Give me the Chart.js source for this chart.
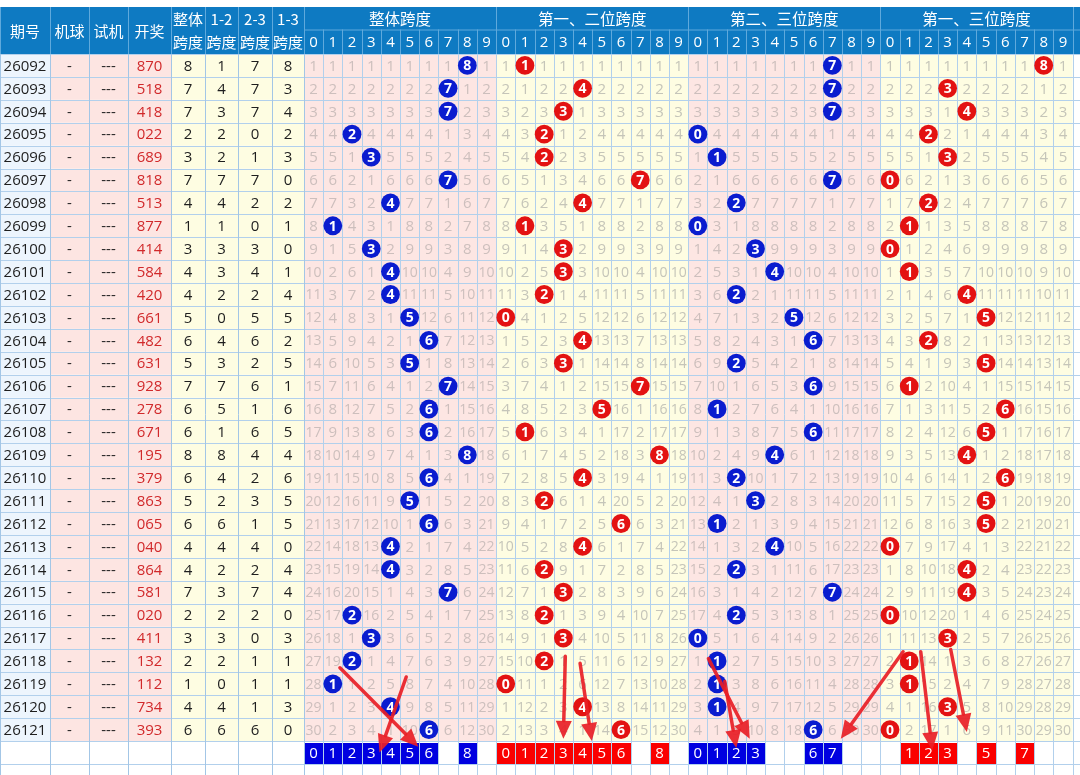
<!DOCTYPE html>
<html lang="zh">
<head>
  <meta charset="UTF-8">
  <title>跨度走势图</title>
  <script src="https://cdn.jsdelivr.net/npm/chart.js"></script>
  <style>
    body { margin: 0; background: #fff; }
    .wrap { width: 1080px; height: 775px; position: relative; }
  </style>
</head>
<body>
  <div class="wrap"><canvas id="span-chart"></canvas></div>

  <script>
    // 期号 / 开奖号
    const issues = ['26092','26093','26094','26095','26096','26097','26098','26099','26100','26101',
                    '26102','26103','26104','26105','26106','26107','26108','26109','26110','26111',
                    '26112','26113','26114','26115','26116','26117','26118','26119','26120','26121'];
    const draws = ['870','518','418','022','689','818','513','877','414','584',
                   '420','661','482','631','928','278','671','195','379','863',
                   '065','040','864','581','020','411','132','112','734','393'];
    const machineBall = '-';
    const testDraw = '---';

    // 跨度
    const spanAll = [8,7,7,2,3,7,4,1,3,4,4,5,6,5,7,6,6,8,6,5,6,4,4,7,2,3,2,1,4,6];
    const span12  = [1,4,3,2,2,7,4,1,3,3,2,0,4,3,7,5,1,8,4,2,6,4,2,3,2,3,2,0,4,6];
    const span23  = [7,7,7,0,1,7,2,0,3,4,2,5,6,2,6,1,6,4,2,3,1,4,2,7,2,0,1,1,1,6];
    const span13  = [8,3,4,2,3,0,2,1,0,1,4,5,2,5,1,6,5,4,6,5,5,0,4,4,0,3,1,1,3,0];

    // 底部选号
    const pickAll = [0,1,2,3,4,5,6,8];
    const pick12  = [0,1,2,3,4,5,6,8];
    const pick23  = [0,1,2,3,6,7];
    const pick13  = [1,2,3,5,7];

    const digits = ['0','1','2','3','4','5','6','7','8','9'];
    const groupTitles = ['整体跨度','第一、二位跨度','第二、三位跨度','第一、三位跨度'];
    const leftTitles = ['期号','机球','试机','开奖',['整体','跨度'],['1-2','跨度'],['2-3','跨度'],['1-3','跨度']];

    // 手画箭头: [起点列, 起点行, 终点列, 终点行]
    const arrows = [
      [1.37, 26.3, 5.45, 29.75],
      [4.82, 26.7, 3.43, 30.0],
      [13.1, 25.8, 13.0, 29.4],
      [13.87, 26.1, 14.48, 29.5],
      [20.55, 25.9, 22.7, 29.4],
      [21.4, 26.9, 22.0, 29.8],
      [30.68, 25.6, 27.44, 29.4],
      [31.6, 25.6, 32.2, 29.9],
      [33.16, 25.5, 34.0, 29.1]
    ];

    const groups = [spanAll, span12, span23, span13];
    const picks = [pickAll, pick12, pick23, pick13];
    const ROWS = issues.length;

    // 布局
    const leftEdges = [0, 50, 89, 128, 171, 205, 238, 272, 304];
    const leftBg = ['#edf5fd','#fde5e2','#fde5e2','#fde5e2','#fefde2','#fefde2','#fefde2','#fefde2'];
    const headTop = 7, headMid = 29.5;
    const NUM_FONT = "'Open Sans', 'Noto Sans', sans-serif";
    const CJK_FONT = "'Noto Sans CJK SC', sans-serif";

    const datasets = groups.map((g, gi) => ({
      data: g.map((v, r) => ({ x: gi * 10 + v, y: r })),
      pointRadius: 9.4,
      pointHoverRadius: 9.4,
      borderWidth: 0,
      backgroundColor: gi % 2 === 0 ? '#0a1ccf' : '#e31212'
    }));

    function drawArrow(ctx, x1, y1, x2, y2) {
      const a = Math.atan2(y2 - y1, x2 - x1);
      const head = 18, hw = 8;
      const bx = x2 - head * Math.cos(a), by = y2 - head * Math.sin(a);
      ctx.beginPath(); ctx.moveTo(x1, y1); ctx.lineTo(bx, by); ctx.stroke();
      ctx.beginPath();
      ctx.moveTo(x2, y2);
      ctx.lineTo(bx + hw * Math.sin(a), by - hw * Math.cos(a));
      ctx.lineTo(bx - hw * Math.sin(a), by + hw * Math.cos(a));
      ctx.closePath(); ctx.fill();
    }

    const tablePlugin = {
      id: 'spanTable',
      beforeDatasetsDraw(chart) {
        const ctx = chart.ctx;
        const xs = chart.scales.x, ys = chart.scales.y;
        const W = chart.width, H = chart.height;
        const px = c => xs.getPixelForValue(c);
        const py = r => ys.getPixelForValue(r);
        const rowH = py(1) - py(0);
        const gridTop = py(-0.5), dataBottom = py(ROWS - 0.5);
        ctx.save();
        ctx.fillStyle = '#fff';
        ctx.fillRect(0, 0, W, H);

        // 左侧表格背景
        for (let r = 0; r < ROWS; r++) {
          for (let c = 0; c < 8; c++) {
            ctx.fillStyle = leftBg[c];
            ctx.fillRect(leftEdges[c], py(r - 0.5), leftEdges[c + 1] - leftEdges[c], rowH);
          }
        }
        // 走势区背景
        for (let g = 0; g < 4; g++) {
          ctx.fillStyle = g % 2 === 0 ? '#fde6e3' : '#fefde2';
          ctx.fillRect(px(g * 10 - 0.5), gridTop, px(g * 10 + 9.5) - px(g * 10 - 0.5), dataBottom - gridTop);
        }

        // 左侧文字
        ctx.textAlign = 'center';
        ctx.textBaseline = 'middle';
        for (let r = 0; r < ROWS; r++) {
          const vals = [issues[r], machineBall, testDraw, draws[r], spanAll[r], span12[r], span23[r], span13[r]];
          vals.forEach((v, c) => {
            ctx.font = '15px ' + NUM_FONT;
            ctx.fillStyle = c === 3 ? '#d1292b' : '#1e1e1e';
            ctx.fillText(String(v), (leftEdges[c] + leftEdges[c + 1]) / 2, py(r) + 1);
          });
        }

        // 遗漏值
        groups.forEach((g, gi) => {
          const last = new Array(10).fill(-1);
          for (let r = 0; r < ROWS; r++) {
            last[g[r]] = r;
            for (let d = 0; d < 10; d++) {
              if (d === g[r]) continue;
              const miss = r - last[d];
              ctx.font = (miss >= 10 ? '14px ' : '15px ') + NUM_FONT;
              ctx.fillStyle = gi % 2 === 0 ? '#cdbfbd' : '#c5c5b9';
              ctx.fillText(String(miss), px(gi * 10 + d), py(r) + 1);
            }
          }
        });

        // 网格线
        ctx.lineWidth = 1;
        ctx.strokeStyle = '#b2d0ec';
        for (let r = 0; r <= ROWS + 2; r++) {
          const y = Math.round(py(r - 0.5)) + 0.5;
          if (y > H) break;
          ctx.beginPath(); ctx.moveTo(0, y); ctx.lineTo(W, y); ctx.stroke();
        }
        for (let c = 0; c <= 40; c++) {
          const x = Math.round(px(c - 0.5)) + 0.5;
          ctx.beginPath(); ctx.moveTo(x, gridTop); ctx.lineTo(x, H); ctx.stroke();
        }
        ctx.strokeStyle = '#a3c6e6';
        leftEdges.forEach(x0 => {
          const x = Math.round(x0) + 0.5;
          ctx.beginPath(); ctx.moveTo(x, gridTop); ctx.lineTo(x, H); ctx.stroke();
        });

        // 表头
        ctx.fillStyle = '#0e7ac2';
        ctx.fillRect(0, headTop, W, gridTop - headTop);
        ctx.strokeStyle = '#5fa9dc';
        leftEdges.forEach(x0 => {
          const x = Math.round(x0) + 0.5;
          ctx.beginPath(); ctx.moveTo(x, headTop); ctx.lineTo(x, gridTop); ctx.stroke();
        });
        for (let c = 0; c <= 40; c++) {
          const x = Math.round(px(c - 0.5)) + 0.5;
          const y0 = c % 10 === 0 ? headTop : headMid;
          ctx.beginPath(); ctx.moveTo(x, y0); ctx.lineTo(x, gridTop); ctx.stroke();
        }
        ctx.beginPath(); ctx.moveTo(px(-0.5), headMid + 0.5); ctx.lineTo(W, headMid + 0.5); ctx.stroke();

        ctx.fillStyle = '#fff';
        leftTitles.forEach((t, c) => {
          const cx = (leftEdges[c] + leftEdges[c + 1]) / 2;
          ctx.font = '15px ' + CJK_FONT;
          if (Array.isArray(t)) {
            ctx.fillText(t[0], cx, (headTop + headMid) / 2 + 1);
            ctx.fillText(t[1], cx, (headMid + gridTop) / 2 + 1);
          } else {
            ctx.fillText(t, cx, (headTop + gridTop) / 2 + 1);
          }
        });
        groupTitles.forEach((t, g) => {
          ctx.font = '15.5px ' + CJK_FONT;
          ctx.fillText(t, (px(g * 10 - 0.5) + px(g * 10 + 9.5)) / 2, (headTop + headMid) / 2 + 1);
          digits.forEach((d, i) => {
            ctx.font = '15px ' + NUM_FONT;
            ctx.fillText(d, px(g * 10 + i), (headMid + gridTop) / 2 + 1);
          });
        });

        // 底部选号
        picks.forEach((p, g) => {
          p.forEach(d => {
            const x0 = px(g * 10 + d - 0.5), x1 = px(g * 10 + d + 0.5);
            const y0 = py(ROWS - 0.5), y1 = py(ROWS + 0.5);
            ctx.fillStyle = g % 2 === 0 ? '#0000e0' : '#fa0000';
            ctx.fillRect(Math.round(x0) + 1, Math.round(y0) + 2, Math.round(x1) - Math.round(x0) - 1, Math.round(y1) - Math.round(y0) - 2);
            ctx.fillStyle = '#fff';
            ctx.font = '15px ' + NUM_FONT;
            ctx.fillText(digits[d], (x0 + x1) / 2, py(ROWS) + 1);
          });
        });
        ctx.restore();
      },
      afterDatasetsDraw(chart) {
        const ctx = chart.ctx;
        const xs = chart.scales.x, ys = chart.scales.y;
        ctx.save();
        ctx.textAlign = 'center';
        ctx.textBaseline = 'middle';
        ctx.fillStyle = '#fff';
        ctx.font = 'bold 14px ' + NUM_FONT;
        groups.forEach((g, gi) => {
          g.forEach((v, r) => {
            ctx.fillText(digits[v], xs.getPixelForValue(gi * 10 + v), ys.getPixelForValue(r) + 1);
          });
        });
        ctx.strokeStyle = 'rgba(232, 30, 38, 0.92)';
        ctx.fillStyle = 'rgba(232, 30, 38, 0.92)';
        ctx.lineWidth = 3.5;
        ctx.lineCap = 'round';
        arrows.forEach(a => {
          drawArrow(ctx, xs.getPixelForValue(a[0]), ys.getPixelForValue(a[1]),
                         xs.getPixelForValue(a[2]), ys.getPixelForValue(a[3]));
        });
        ctx.restore();
      }
    };

    const ctx = document.getElementById('span-chart').getContext('2d');
    new Chart(ctx, {
      type: 'scatter',
      data: { datasets: datasets },
      options: {
        responsive: true,
        maintainAspectRatio: false,
        animation: false,
        layout: { padding: { left: 304, top: 54, right: 0, bottom: 11 } },
        scales: {
          x: { type: 'linear', min: -0.5, max: 39.4, display: false },
          y: { type: 'linear', min: -0.5, max: 30.5, reverse: true, display: false }
        },
        plugins: { legend: { display: false }, tooltip: { enabled: false } }
      },
      plugins: [tablePlugin]
    });
  </script>
</body>
</html>
